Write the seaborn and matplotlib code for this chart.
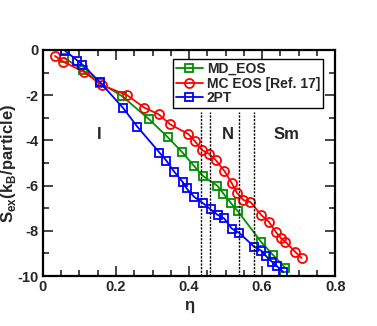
import matplotlib
matplotlib.use('Agg')
import matplotlib.pyplot as plt
import seaborn as sns
import pandas as pd
from matplotlib.ticker import MultipleLocator, FixedLocator

# packing fraction / excess entropy
md_eta = [0.058, 0.110, 0.156, 0.217, 0.290, 0.341, 0.381, 0.413, 0.437, 0.477,
          0.494, 0.514, 0.533, 0.598, 0.629, 0.663]
md_s = [-0.35, -0.90, -1.45, -2.05, -3.06, -3.85, -4.52, -5.12, -5.56, -6.00,
        -6.35, -6.76, -7.12, -8.50, -9.05, -9.63]

mc_eta = [0.033, 0.056, 0.112, 0.161, 0.229, 0.277, 0.317, 0.348, 0.398, 0.415,
          0.436, 0.455, 0.473, 0.497, 0.517, 0.531, 0.549, 0.568, 0.597, 0.619,
          0.637, 0.652, 0.664, 0.690, 0.708]
mc_s = [-0.27, -0.53, -0.97, -1.56, -1.99, -2.55, -2.85, -3.29, -3.72, -4.02,
        -4.43, -4.60, -4.87, -5.36, -5.89, -6.32, -6.64, -6.72, -7.29, -7.61,
        -8.04, -8.33, -8.48, -8.92, -9.20]

tpt_eta = [0.060, 0.094, 0.108, 0.156, 0.220, 0.258, 0.319, 0.338, 0.359, 0.383,
           0.393, 0.414, 0.437, 0.459, 0.478, 0.496, 0.517, 0.538, 0.578, 0.598,
           0.611, 0.628, 0.640, 0.658]
tpt_s = [-0.03, -0.47, -0.65, -1.43, -2.58, -3.39, -4.54, -4.90, -5.38, -5.85,
         -6.12, -6.50, -6.76, -7.05, -7.29, -7.45, -7.90, -8.10, -8.70, -8.88,
         -9.12, -9.38, -9.55, -9.82]

# phase boundaries (dashed lines) and phase names
boundaries = [0.433, 0.457, 0.538, 0.578]
phases = ['I', 'N', 'Sm']
phase_x = [0.154, 0.506, 0.666]

x_ticks = [0, 0.2, 0.4, 0.6, 0.8]
x_labels = ['0', '0.2', '0.4', '0.6', '0.8']
y_ticks = [0, -2, -4, -6, -8, -10]
y_labels = ['0', '-2', '-4', '-6', '-8', '-10']

sns.set_style('ticks')
plt.rcParams['font.family'] = ['Liberation Sans', 'DejaVu Sans']
plt.rcParams['font.weight'] = 'bold'
plt.rcParams['axes.unicode_minus'] = False
plt.rcParams['mathtext.fontset'] = 'custom'
plt.rcParams['mathtext.rm'] = 'Liberation Sans:bold'
plt.rcParams['mathtext.bf'] = 'Liberation Sans:bold'

fig = plt.figure(figsize=(3.77, 3.26), dpi=100)
ax = fig.add_axes([0.114, 0.153, 0.775, 0.694])

series = [
    (md_eta, md_s, 'MD_EOS', '#009000', 's', 5.5),
    (mc_eta, mc_s, 'MC EOS [Ref. 17]', '#ff0000', 'o', 6.5),
    (tpt_eta, tpt_s, '2PT', '#0000ff', 's', 5.5),
]
for xs, ys, name, col, mk, ms in series:
    df = pd.DataFrame({'eta': xs, 's': ys})
    sns.lineplot(data=df, x='eta', y='s', ax=ax, color=col, marker=mk,
                 markersize=ms, markerfacecolor='none', markeredgecolor=col,
                 markeredgewidth=1.3, linewidth=1.3, label=name)

ax.vlines(boundaries, -10, -2.75, colors='black', linestyles=(0, (1.6, 1.0)),
          linewidth=1.0)
for name, px in zip(phases, phase_x):
    ax.text(px, -3.76, name, ha='center', va='center', fontsize=12,
            fontweight='bold')

ax.set_xlim(0, 0.8)
ax.set_ylim(-10, 0)
ax.xaxis.set_major_locator(FixedLocator(x_ticks))
ax.set_xticklabels(x_labels)
ax.yaxis.set_major_locator(FixedLocator(y_ticks))
ax.set_yticklabels(y_labels)
ax.xaxis.set_minor_locator(MultipleLocator(0.05))
ax.yaxis.set_minor_locator(MultipleLocator(1))
ax.tick_params(which='both', direction='in', top=True, right=True,
               width=1.2, labelsize=10.5, pad=3)
ax.tick_params(which='major', length=7)
ax.tick_params(which='minor', length=4)
for t in ax.get_xticklabels() + ax.get_yticklabels():
    t.set_fontweight('bold')
for sp in ax.spines.values():
    sp.set_linewidth(1.6)
    sp.set_color('black')

ax.set_xlabel('\u03b7', fontsize=12, fontweight='bold', labelpad=3)
ax.set_ylabel(r'S$_{\mathbf{ex}}$(k$_{\mathbf{B}}$/particle)', fontsize=12,
              fontweight='bold', labelpad=0)

leg = ax.legend(loc='upper right', bbox_to_anchor=(0.958, 0.959),
                borderaxespad=0, fancybox=False, framealpha=1,
                edgecolor='black', handlelength=1.9, handletextpad=0.3,
                borderpad=0.2, labelspacing=0.05, prop={'weight': 'bold', 'size': 10})
leg.get_frame().set_linewidth(1.0)

fig.savefig('out.png', dpi=100)
